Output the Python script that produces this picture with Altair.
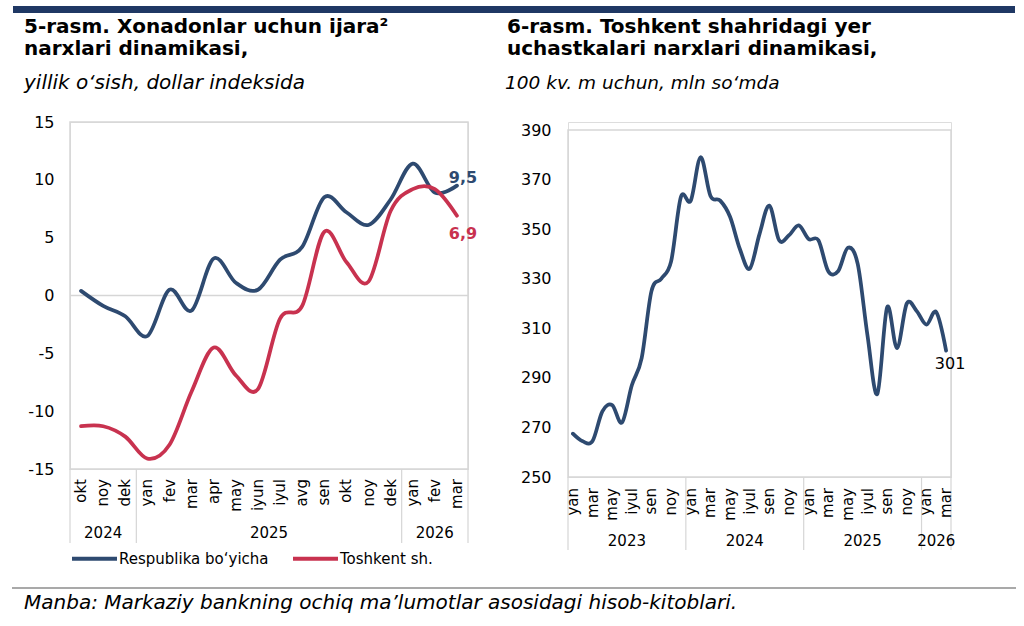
import json

import altair as alt
import pandas as pd

# ---------------------------------------------------------------- data
MONTHS = ["yan", "fev", "mar", "apr", "may", "iyun", "iyul", "avg", "sen", "okt", "noy", "dek"]

# 5-rasm: rent prices, annual growth in dollar index (%)
rent_months = ["okt", "noy", "dek", "yan", "fev", "mar", "apr", "may", "iyun",
               "iyul", "avg", "sen", "okt", "noy", "dek", "yan", "fev", "mar"]
rent_years = ["2024", "2025", "2026"]
rent_year_first = [0, 3, 15]
rent_year_last = [2, 14, 17]
SERIES = ["Respublika bo‘yicha", "Toshkent sh."]
respublika = [0.4, -0.9, -1.8, -3.5, 0.5, -1.3, 3.2, 1.1, 0.5, 3.1, 4.2, 8.5,
              7.2, 6.1, 8.3, 11.4, 8.9, 9.5]
toshkent = [-11.3, -11.3, -12.2, -14.1, -12.9, -8.3, -4.5, -6.9, -8.1, -2.0, -0.9, 5.5,
            2.9, 1.2, 7.3, 9.2, 9.2, 6.9]

# 6-rasm: land plot prices in Tashkent, mln so'm per 100 sq. m
land_years = ["2023", "2024", "2025", "2026"]
land_year_first = [0, 12, 24, 36]
land_year_last = [11, 23, 35, 38]
land_price = [267.5, 264.4, 264.5, 276.5, 279.0, 272.0, 287.0, 298.0, 325.0, 330.0, 337.0, 363.0,
              361.5, 379.0, 363.5, 361.5, 355.0, 342.0, 334.0, 348.0, 359.5, 345.5, 347.5, 351.5,
              346.0, 345.5, 333.0, 333.0, 342.5, 336.0, 307.0, 283.5, 318.5, 302.0, 320.0, 317.0,
              311.5, 316.5, 301.0]
land_months = [MONTHS[k % 12] for k in range(len(land_price))]

# ---------------------------------------------------------------- styling
FONT = "DejaVu Sans"
BLUE = "#2e4a70"
RED = "#c8324f"
GRID = "#d6d6d6"
NAVY = "#1f3864"

W1, H1 = 398, 347          # left plot
W2, H2, TOP2 = 383, 355, 8  # right plot (top offset inside its view)

one = pd.DataFrame({"k": [0]})


def xq(field, n):
    return alt.X(f"{field}:Q", scale=alt.Scale(domain=[-0.5, n - 0.5], nice=False, zero=False),
                 axis=None)


def text_at(x, y, txt, size, weight="normal", style="normal", color="black", align="left"):
    return alt.Chart(one).mark_text(
        align=align, baseline="alphabetic", font=FONT, fontSize=size,
        fontWeight=weight, fontStyle=style, color=color,
    ).encode(x=alt.value(x), y=alt.value(y), text=alt.value(txt))


def box(x, x2, y, y2, fill=None, stroke=None, sw=1.0):
    kw = {"fill": fill if fill else "transparent"}
    if stroke:
        kw.update(stroke=stroke, strokeWidth=sw)
    return alt.Chart(one).mark_rect(**kw).encode(
        x=alt.value(x), x2=alt.value(x2), y=alt.value(y), y2=alt.value(y2))


def year_bounds(first, last):
    return sorted({f - 0.5 for f in first} | {l + 0.5 for l in last})


def month_labels(names, step, y0):
    """Rotated month names under the plot, placed through the x scale."""
    idx = list(range(0, len(names), step))
    df = pd.DataFrame({"i": idx, "m": [names[k] for k in idx]})
    return alt.Chart(df).mark_text(
        angle=270, align="right", baseline="middle", font=FONT, fontSize=15, color="black"
    ).encode(x=xq("i", len(names)), y=alt.value(y0), text="m:N")


def year_row(years, first, last, n, h, y_sep, y_lbl):
    sep = alt.Chart(pd.DataFrame({"b": year_bounds(first, last)})).mark_rule(
        color=GRID, strokeWidth=1.2
    ).encode(x=xq("b", n), y=alt.value(h), y2=alt.value(h + y_sep))
    lbl = alt.Chart(pd.DataFrame({
        "c": [(a + b) / 2 for a, b in zip(first, last)], "yr": years,
    })).mark_text(font=FONT, fontSize=15, color="black", baseline="middle").encode(
        x=xq("c", n), y=alt.value(h + y_lbl), text="yr:N")
    return sep, lbl


# ---------------------------------------------------------------- left panel
n1 = len(rent_months)
rent = pd.DataFrame({
    "i": list(range(n1)) * 2,
    "v": respublika + toshkent,
    "s": [SERIES[0]] * n1 + [SERIES[1]] * n1,
})

y_rent = alt.Y(
    "v:Q",
    scale=alt.Scale(domain=[-15, 15], nice=False),
    axis=alt.Axis(values=[-15, -10, -5, 0, 5, 10, 15], labelExpr="toString(datum.value)",
                  labelPadding=16, labelFontSize=16, ticks=False, domain=False, grid=False,
                  labelOverlap=False, title=None, labelColor="black", labelFont=FONT),
)

rent_lines = alt.Chart(rent).mark_line(
    interpolate="cardinal", strokeWidth=3.75, strokeCap="round", strokeJoin="round"
).encode(
    x=xq("i", n1), y=y_rent,
    color=alt.Color("s:N", scale=alt.Scale(domain=SERIES, range=[BLUE, RED]),
                    legend=alt.Legend(title=None, orient="none", legendX=0, legendY=412,
                                      direction="horizontal", symbolType="stroke",
                                      symbolSize=2025, symbolStrokeWidth=4,
                                      labelFont=FONT, labelFontSize=15, labelColor="black",
                                      labelLimit=300, labelOffset=0, columnPadding=16,
                                      padding=0)),
    detail="s:N",
)

zero_line = alt.Chart(pd.DataFrame({"z": [0]})).mark_rule(color=GRID, strokeWidth=1.5).encode(
    y=alt.Y("z:Q"))


def end_label(series, color, dx, dy):
    return alt.Chart(rent).transform_filter(
        (alt.datum.s == series) & (alt.datum.i == n1 - 1)
    ).transform_calculate(
        lab="replace(format(datum.v, '.1f'), '.', ',')"
    ).mark_text(font=FONT, fontSize=16, fontWeight="bold", color=color, dx=dx, dy=dy).encode(
        x=xq("i", n1), y="v:Q", text="lab:N")


rent_sep, rent_year_lbl = year_row(rent_years, rent_year_first, rent_year_last, n1, H1, 74, 64)

left = alt.layer(
    box(-57, 945, -116, -109, fill=NAVY),
    box(0, W1, 0, H1, stroke=GRID, sw=1.5),
    zero_line,
    rent_lines,
    rent_sep,
    rent_year_lbl,
    month_labels(rent_months, 1, H1 + 10),
    end_label(SERIES[0], BLUE, 6, -8),
    end_label(SERIES[1], RED, 6, 18),
    text_at(-46, -89, "5-rasm. Xonadonlar uchun ijara²", 20, weight="bold"),
    text_at(-46, -67, "narxlari dinamikasi,", 20, weight="bold"),
    text_at(-46, -33, "yillik o‘sish, dollar indeksida", 20, style="italic"),
    alt.Chart(one).mark_rule(color="#555555", strokeWidth=1.2).encode(
        x=alt.value(-58), x2=alt.value(946), y=alt.value(466)),
    text_at(-46, 487, "Manba: Markaziy bankning ochiq ma’lumotlar asosidagi hisob-kitoblari.",
            20, style="italic"),
).properties(width=W1, height=H1)

# ---------------------------------------------------------------- right panel
n2 = len(land_price)
land = pd.DataFrame({"i": list(range(n2)), "v": land_price})

y_land = alt.Y(
    "v:Q",
    scale=alt.Scale(domain=[250, 390], nice=False, zero=False, range=[H2, TOP2]),
    axis=alt.Axis(values=list(range(250, 391, 20)), labelPadding=17, labelFontSize=16,
                  ticks=False, domain=False, grid=False, title=None, labelColor="black",
                  labelOverlap=False, labelFont=FONT),
)

land_line = alt.Chart(land).mark_line(
    interpolate="cardinal", strokeWidth=3.75, strokeCap="round", strokeJoin="round", color=BLUE
).encode(x=xq("i", n2), y=y_land)

land_last = alt.Chart(land).transform_filter(alt.datum.i == n2 - 1).transform_calculate(
    lab="format(datum.v, '.0f')"
).mark_text(font=FONT, fontSize=16, color="black", dx=4, dy=13).encode(
    x=xq("i", n2), y="v:Q", text="lab:N")

land_sep, land_year_lbl = year_row(land_years, land_year_first, land_year_last, n2, H2, 73, 64)

right = alt.layer(
    box(0, W2, TOP2, H2, stroke=GRID, sw=1.5),
    land_line,
    land_sep,
    land_year_lbl,
    month_labels(land_months, 2, H2 + 11),
    land_last,
    text_at(-61, -89, "6-rasm. Toshkent shahridagi yer", 20, weight="bold"),
    text_at(-61, -67, "uchastkalari narxlari dinamikasi,", 20, weight="bold"),
    text_at(-63, -33, "100 kv. m uchun, mln so‘mda", 18.5, style="italic"),
).properties(width=W2, height=H2)

chart = alt.hconcat(left, right, spacing=100, bounds="flush").properties(
    padding={"left": 10, "top": 5, "right": 5, "bottom": 5},
    background="white",
).configure_view(stroke=None).configure(font=FONT)

chart.save("out.html", embed_options={"renderer": "svg", "actions": False})
